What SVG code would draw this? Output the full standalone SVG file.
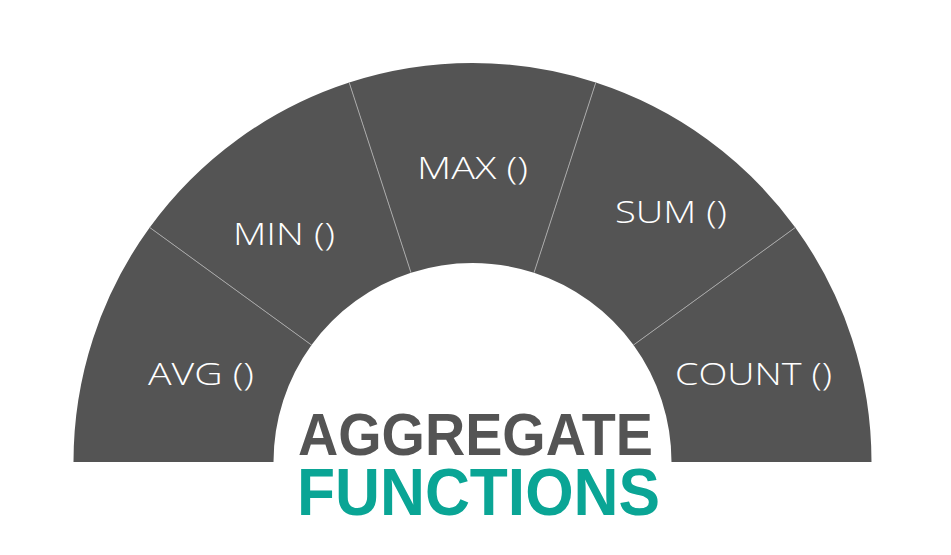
<svg xmlns="http://www.w3.org/2000/svg" width="951" height="555" viewBox="0 0 951 555">
<style>
.seg{fill:#545454;}
.lbl{fill:#ffffff;font-family:"Open Sans","Liberation Sans",sans-serif;font-weight:300;font-size:31px;text-anchor:middle;}
.div{stroke:#a8a8a8;stroke-width:1;fill:none;}
.t1{fill:#545454;font-family:"Liberation Sans",Arial,sans-serif;font-weight:bold;font-size:60px;}
.t2{fill:#0aa595;font-family:"Liberation Sans",Arial,sans-serif;font-weight:bold;font-size:66px;}
</style>
<rect width="951" height="555" fill="#ffffff"/>
<g id="avg">
<path class="seg" d="M73.5 462 A399 399 0 0 1 149.7 227.47 L311.51 345.03 A199 199 0 0 0 273.5 462 Z"/>
<text class="lbl" x="201" y="385" textLength="106" lengthAdjust="spacingAndGlyphs">AVG ()</text>
</g>
<g id="min">
<path class="seg" d="M149.7 227.47 A399 399 0 0 1 349.2 82.53 L411.01 272.74 A199 199 0 0 0 311.51 345.03 Z"/>
<text class="lbl" x="284" y="245" textLength="102" lengthAdjust="spacingAndGlyphs">MIN ()</text>
</g>
<g id="max">
<path class="seg" d="M349.2 82.53 A399 399 0 0 1 595.8 82.53 L533.99 272.74 A199 199 0 0 0 411.01 272.74 Z"/>
<text class="lbl" x="472.5" y="179" textLength="111" lengthAdjust="spacingAndGlyphs">MAX ()</text>
</g>
<g id="sum">
<path class="seg" d="M595.8 82.53 A399 399 0 0 1 795.3 227.47 L633.49 345.03 A199 199 0 0 0 533.99 272.74 Z"/>
<text class="lbl" x="671" y="223" textLength="112" lengthAdjust="spacingAndGlyphs">SUM ()</text>
</g>
<g id="count">
<path class="seg" d="M795.3 227.47 A399 399 0 0 1 871.5 462 L671.5 462 A199 199 0 0 0 633.49 345.03 Z"/>
<text class="lbl" x="753.5" y="385" textLength="157" lengthAdjust="spacingAndGlyphs">COUNT ()</text>
</g>
<g id="connectors">
<line class="div" x1="149.7" y1="227.47" x2="311.51" y2="345.03"/>
<line class="div" x1="349.2" y1="82.53" x2="411.01" y2="272.74"/>
<line class="div" x1="595.8" y1="82.53" x2="533.99" y2="272.74"/>
<line class="div" x1="795.3" y1="227.47" x2="633.49" y2="345.03"/>
</g>
<g id="title">
<text class="t1" x="298" y="455" textLength="355" lengthAdjust="spacingAndGlyphs">AGGREGATE</text>
<text class="t2" x="297" y="515" textLength="363" lengthAdjust="spacingAndGlyphs">FUNCTIONS</text>
</g>
</svg>
